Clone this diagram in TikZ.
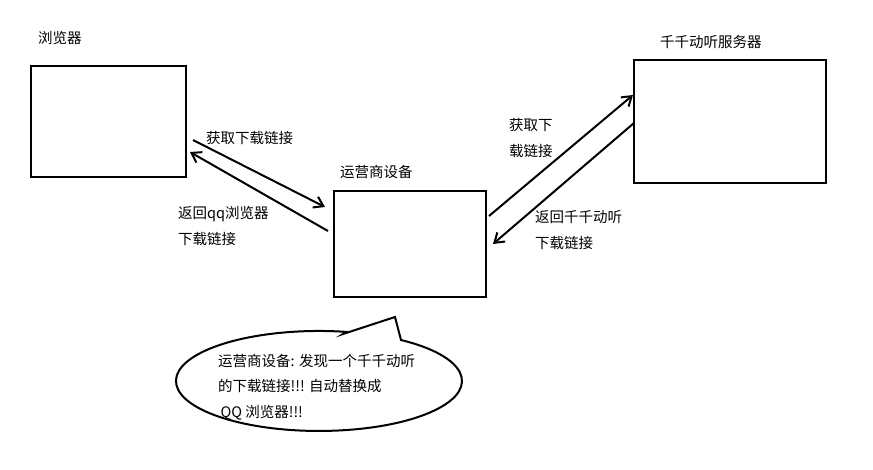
\documentclass[tikz,border=0pt]{standalone}
\usepackage{fontspec}
\setmainfont{Noto Sans CJK SC}
\usetikzlibrary{arrows.meta}
\begin{document}
\begin{tikzpicture}[x=1pt,y=-1pt,
  box/.style={draw,line width=2pt},
  lbl/.style={anchor=west,inner sep=0pt,font=\fontsize{14.5}{25.5}\selectfont,align=left},
  arr/.style={line width=2pt,-{Straight Barb[length=9pt,width=12pt]}}]
\useasboundingbox (0,0) rectangle (873,469);
\draw[box] (31,66) rectangle (186,177);
\draw[box] (334,191) rectangle (486,297);
\draw[box] (634,60) rectangle (826,183);
\node[lbl] (t1) at (38,38) {浏览器};
\node[lbl] (t2) at (340,172) {运营商设备};
\node[lbl] (t3) at (660,42) {千千动听服务器};
\coordinate (a1) at (193,140); \coordinate (b1) at (325,207);
\coordinate (a2) at (328,231); \coordinate (b2) at (190,152);
\coordinate (a3) at (489,216); \coordinate (b3) at (633,95);
\coordinate (a4) at (634,123); \coordinate (b4) at (493,244);
\draw[arr] (a1) -- (b1);
\draw[arr] (a2) -- (b2);
\draw[arr] (a3) -- (b3);
\draw[arr] (a4) -- (b4);
\node[lbl] (l1) at (206,138) {获取下载链接};
\node[lbl] (l2) at (178,226) {返回qq浏览器\\下载链接};
\node[lbl] (l3) at (509,138) {获取下\\载链接};
\node[lbl] (l4) at (535,230) {返回千千动听\\下载链接};
\draw[line width=2pt] (343,334) -- (395,317) -- (401,340)
  arc[start angle=-55,end angle=281,x radius=143,y radius=50] -- cycle;
\node[lbl] (l5) at (218,387) {运营商设备: 发现一个千千动听\\的下载链接!!! 自动替换成\\ \,QQ 浏览器!!!};
\end{tikzpicture}
\end{document}
